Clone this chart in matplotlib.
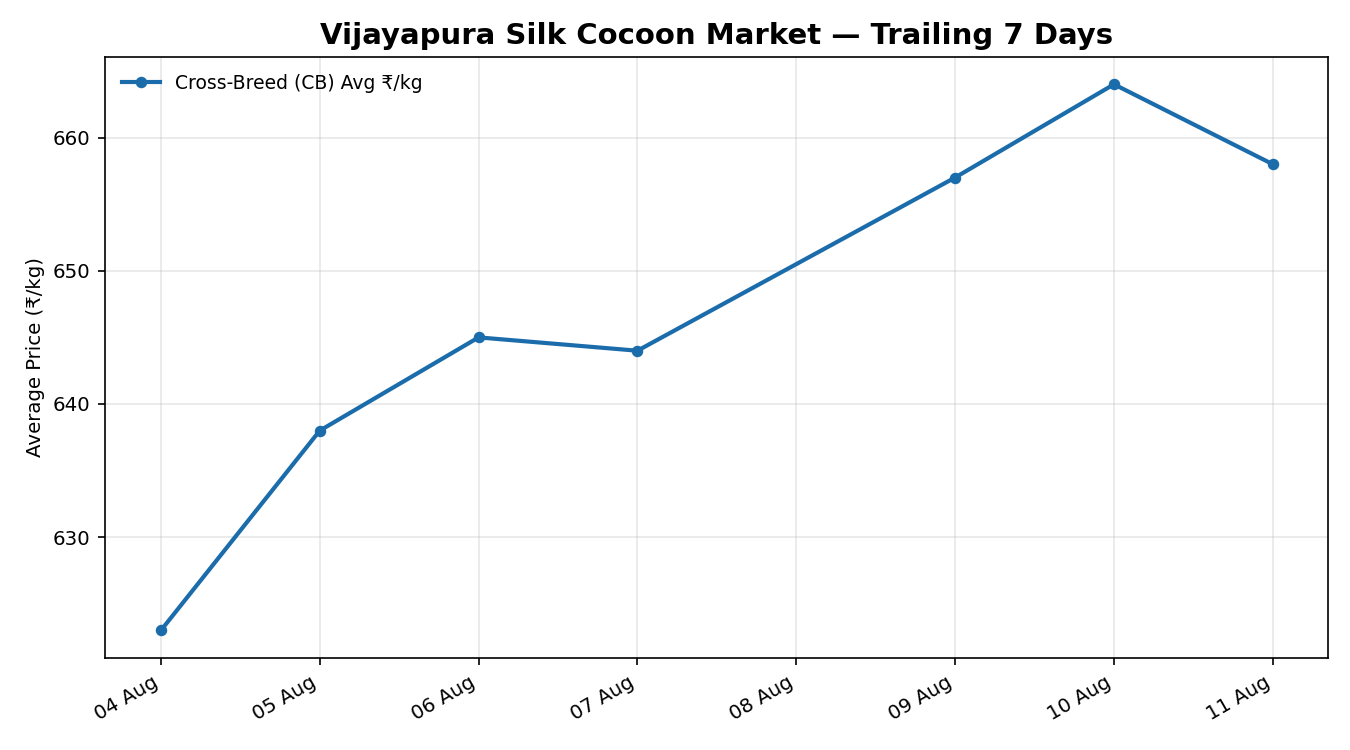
import numpy as np
import pandas as pd
import matplotlib
matplotlib.use('Agg')
import matplotlib.pyplot as plt
import matplotlib.dates as mdates

# data (08 Aug has no reading)
dates = ['2024-08-04', '2024-08-05', '2024-08-06', '2024-08-07',
         '2024-08-09', '2024-08-10', '2024-08-11']
cb_avg = [623, 638, 645, 644, 657, 664, 658]

x = pd.to_datetime(dates)

fig, ax = plt.subplots(figsize=(9, 5), dpi=150)
fig.subplots_adjust(left=0.078, right=0.984, top=0.924, bottom=0.123)

ax.plot(x, cb_avg, color='#1b6cab', linewidth=2, marker='o', markersize=4.5,
        label='Cross-Breed (CB) Avg ₹/kg')

ax.set_title('Vijayapura Silk Cocoon Market — Trailing 7 Days',
             fontsize=14, fontweight='bold')
ax.set_ylabel('Average Price (₹/kg)', fontsize=9.5)
ax.xaxis.set_major_locator(mdates.DayLocator())
ax.xaxis.set_major_formatter(mdates.DateFormatter('%d %b'))
for lbl in ax.get_xticklabels():
    lbl.set_rotation(30)
    lbl.set_ha('right')
ax.tick_params(labelsize=9.5)
ax.grid(True, alpha=0.3)
ax.legend(loc='upper left', frameon=False, fontsize=9)

fig.savefig('out.png', dpi=150)
